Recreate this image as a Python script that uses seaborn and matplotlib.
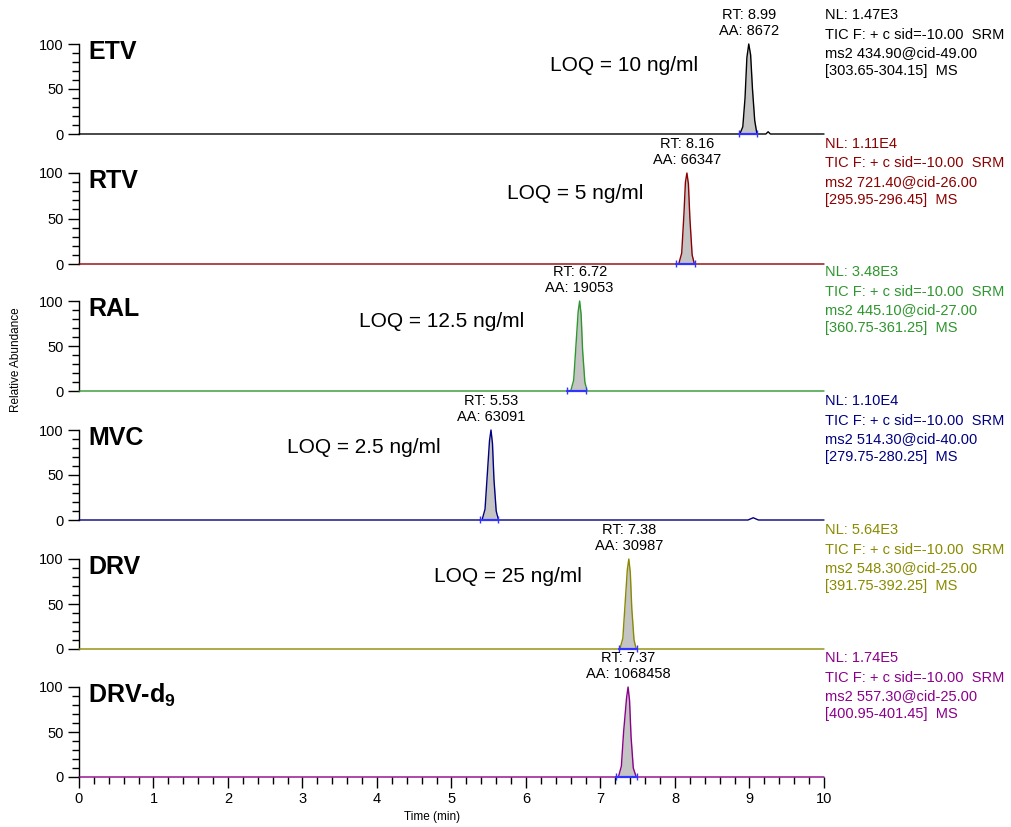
import matplotlib
matplotlib.use("Agg")
import matplotlib.pyplot as plt
import seaborn as sns
from matplotlib.ticker import MultipleLocator

sns.set_style("ticks")
plt.rcParams['font.family'] = ['Liberation Sans', 'DejaVu Sans']
plt.rcParams['mathtext.fontset'] = 'custom'
plt.rcParams['mathtext.rm'] = 'Liberation Sans'
plt.rcParams['mathtext.bf'] = 'Liberation Sans:bold'
plt.rcParams['text.color'] = 'black'
plt.rcParams['axes.labelcolor'] = 'black'
plt.rcParams['xtick.color'] = 'black'
plt.rcParams['ytick.color'] = 'black'
plt.rcParams['axes.edgecolor'] = 'black'

# ---------------- data ----------------
compounds = ["ETV", "RTV", "RAL", "MVC", "DRV", "DRV-d9"]
labels = ["ETV", "RTV", "RAL", "MVC", "DRV", r"DRV-d$_\mathbf{9}$"]
colors = ["#000000", "#8b0000", "#2e962e", "#000080", "#8a8a00", "#8b008b"]

etv_t = [0, 8.87, 8.91, 8.94, 8.965, 8.99, 9.015, 9.04, 9.07, 9.10, 9.22, 9.25, 9.28, 10]
etv_y = [0, 0, 8, 40, 85, 100, 88, 50, 15, 0, 0, 2.5, 0, 0]
rtv_t = [0, 8.05, 8.09, 8.12, 8.14, 8.16, 8.18, 8.20, 8.23, 8.26, 10]
rtv_y = [0, 0, 12, 55, 90, 100, 88, 50, 10, 0, 0]
ral_t = [0, 6.60, 6.64, 6.67, 6.70, 6.72, 6.74, 6.76, 6.79, 6.82, 10]
ral_y = [0, 0, 12, 50, 88, 100, 85, 45, 10, 0, 0]
mvc_t = [0, 5.41, 5.45, 5.48, 5.51, 5.53, 5.55, 5.57, 5.60, 5.63, 8.98, 9.05, 9.12, 10]
mvc_y = [0, 0, 12, 50, 88, 100, 85, 45, 10, 0, 0, 2.5, 0, 0]
drv_t = [0, 7.26, 7.30, 7.33, 7.36, 7.38, 7.40, 7.42, 7.45, 7.48, 10]
drv_y = [0, 0, 12, 50, 88, 100, 85, 45, 10, 0, 0]
d9_t = [0, 7.24, 7.28, 7.31, 7.35, 7.37, 7.39, 7.41, 7.44, 7.48, 10]
d9_y = [0, 0, 12, 50, 88, 100, 85, 45, 10, 0, 0]

peak_rt = [8.99, 8.16, 6.72, 5.53, 7.38, 7.37]
peak_aa = ["8672", "66347", "19053", "63091", "30987", "1068458"]
int_lo = [8.86, 8.02, 6.55, 5.38, 7.25, 7.21]
int_hi = [9.10, 8.27, 6.81, 5.62, 7.49, 7.49]

nl_vals = ["1.47E3", "1.11E4", "3.48E3", "1.10E4", "5.64E3", "1.74E5"]
ms2_vals = ["434.90@cid-49.00", "721.40@cid-26.00", "445.10@cid-27.00",
            "514.30@cid-40.00", "548.30@cid-25.00", "557.30@cid-25.00"]
range_vals = ["[303.65-304.15]", "[295.95-296.45]", "[360.75-361.25]",
              "[279.75-280.25]", "[391.75-392.25]", "[400.95-401.45]"]
loq_text = ["LOQ = 10 ng/ml", "LOQ = 5 ng/ml", "LOQ = 12.5 ng/ml",
            "LOQ = 2.5 ng/ml", "LOQ = 25 ng/ml", None]
loq_x = [6.32, 5.74, 3.76, 2.79, 4.77, None]
loq_y = [76, 78, 77, 81, 80, None]

traces_t = [etv_t, rtv_t, ral_t, mvc_t, drv_t, d9_t]
traces_y = [etv_y, rtv_y, ral_y, mvc_y, drv_y, d9_y]

# ---------------- layout ----------------
W, H = 1012, 827
fig = plt.figure(figsize=(W / 100, H / 100), dpi=100)
x_left, x_right = 79, 824
y100 = [44, 173, 301, 430, 559, 687]
y0 = [134, 264, 391, 520, 649, 777]

for i in range(6):
    ax = fig.add_axes([x_left / W, 1 - y0[i] / H, (x_right - x_left) / W, (y0[i] - y100[i]) / H])
    c = colors[i]
    t, y = traces_t[i], traces_y[i]
    tf = [tt for tt in t if int_lo[i] <= tt <= int_hi[i]]
    yf = [yy for tt, yy in zip(t, y) if int_lo[i] <= tt <= int_hi[i]]
    ax.fill_between(tf, 0, yf, color="#c4c4c4", lw=0, zorder=1)
    sns.lineplot(x=t, y=y, ax=ax, color=c, lw=1.0, estimator=None, sort=False, zorder=3)
    for ln in ax.get_lines():
        ln.set_clip_on(False)
    ax.plot([int_lo[i], int_hi[i]], [0, 0], color="#3333ff", lw=1.6, zorder=4, clip_on=False)
    ax.vlines([int_lo[i], int_hi[i]], -3, 4, color="#3333ff", lw=1.0, zorder=4, clip_on=False)

    ax.set_xlim(0, 10)
    ax.set_ylim(0, 100)
    sns.despine(ax=ax, top=True, right=True, bottom=True)
    ax.spines['left'].set_linewidth(1.0)
    ax.spines['left'].set_color('black')
    ax.set_yticks([0, 50, 100])
    ax.yaxis.set_minor_locator(MultipleLocator(10))
    ax.tick_params(axis='y', which='major', length=8, width=1.0, labelsize=10.5, pad=3, color='black', labelcolor='black')
    ax.tick_params(axis='y', which='minor', length=5, width=1.0, color='black')
    ax.set_ylabel("")
    ax.set_xlabel("")
    if i < 5:
        ax.tick_params(axis='x', which='both', bottom=False, labelbottom=False)
    else:
        ax.set_xticks(range(0, 11))
        ax.xaxis.set_minor_locator(MultipleLocator(0.2))
        ax.tick_params(axis='x', which='major', length=8, width=1.0, labelsize=10.5, pad=3, color='black', labelcolor='black', bottom=True)
        ax.tick_params(axis='x', which='minor', length=5, width=1.0, color='black', bottom=True)
    ax.patch.set_alpha(0)

    ax.text(0.12, 91, labels[i], fontsize=18, fontweight='bold', va='center', ha='left', color='black')
    ax.text(peak_rt[i], 132, f"RT: {peak_rt[i]:.2f}", fontsize=10.5, ha='center', va='center', clip_on=False, color='black')
    ax.text(peak_rt[i], 114, f"AA: {peak_aa[i]}", fontsize=10.5, ha='center', va='center', clip_on=False, color='black')
    if loq_text[i]:
        ax.text(loq_x[i], loq_y[i], loq_text[i], fontsize=15, ha='left', va='center', color='black')
    ax.text(10.01, 132, f"NL: {nl_vals[i]}", fontsize=10.5, color=c, ha='left', va='center', clip_on=False)
    ax.text(10.01, 110.5, "TIC F: + c sid=-10.00  SRM", fontsize=10.5, color=c, ha='left', va='center', clip_on=False)
    ax.text(10.01, 90.5, f"ms2 {ms2_vals[i]}", fontsize=10.5, color=c, ha='left', va='center', clip_on=False)
    ax.text(10.01, 70.5, f"{range_vals[i]}  MS", fontsize=10.5, color=c, ha='left', va='center', clip_on=False)

fig.text(16 / W, 1 - 360 / H, "Relative Abundance", rotation=90, fontsize=8.5, ha='center', va='center', color='black')
fig.text(432 / W, 1 - 817 / H, "Time (min)", fontsize=8.5, ha='center', va='center', color='black')

fig.savefig("out.png", dpi=100)
